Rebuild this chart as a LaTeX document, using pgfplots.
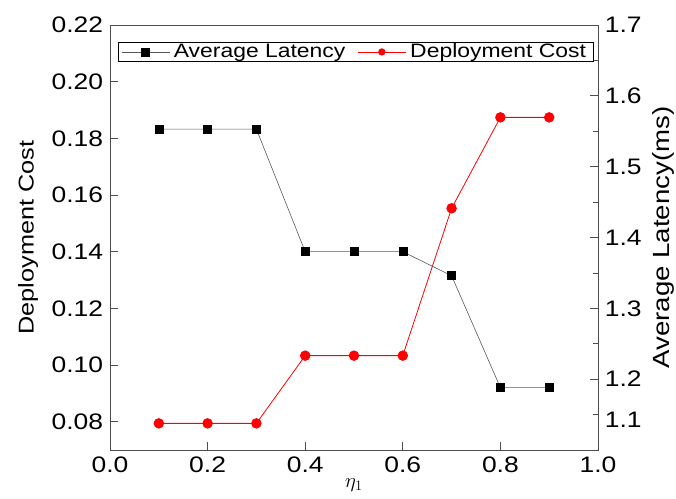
\documentclass[border=0pt]{standalone}
\usepackage{fontspec}
\setmainfont{Liberation Sans}[FakeStretch=1.18]
\usepackage{pgfplots}
\pgfplotsset{compat=1.18}
\begin{document}
\fontsize{20}{24}\selectfont
\begin{tikzpicture}
\begin{axis}[
  name=ax1,
  scale only axis, width=488bp, height=425bp,
  xmin=0, xmax=1, ymin=0.07, ymax=0.22,
  xtick={0,0.2,0.4,0.6,0.8,1.0},
  ytick={0.08,0.10,0.12,0.14,0.16,0.18,0.20,0.22},
  xtick pos=bottom, ytick pos=left,
  tick align=inside, major tick length=8bp,
  axis line style={black!70, line width=0.8bp},
  tick style={black!70, line width=0.8bp},
  /pgf/number format/assume math mode=true,
  xticklabel style={font=\fontsize{22.5}{26}\selectfont, /pgf/number format/fixed, /pgf/number format/fixed zerofill, /pgf/number format/precision=1},
  yticklabel style={font=\fontsize{22.5}{26}\selectfont, /pgf/number format/fixed, /pgf/number format/fixed zerofill, /pgf/number format/precision=2},
  scaled y ticks=false,
  xlabel={$\eta_1$}, xlabel style={font=\fontsize{20}{22}\selectfont, inner sep=0pt, yshift=1bp},
  ylabel={Deployment Cost}, ylabel style={font=\fontsize{21.5}{26}\selectfont, yshift=0bp},
]
\addplot[red, line width=0.8bp, mark=*, mark size=4.8bp, mark options={fill=red, draw=red}]
  coordinates {(0.1,0.0794) (0.2,0.0794) (0.3,0.0794) (0.4,0.1033) (0.5,0.1033) (0.6,0.1033) (0.7,0.1553) (0.8,0.1874) (0.9,0.1874)};
\end{axis}
\begin{axis}[
  scale only axis, width=488bp, height=425bp,
  xmin=0, xmax=1, ymin=1.1, ymax=1.7,
  axis x line=none, axis y line*=right,
  ytick={1.2,1.3,1.4,1.5,1.6,1.7},
  extra y ticks={1.1}, extra y tick labels={1.1},
  extra y tick style={yticklabel style={/tikz/yshift=30bp}},
  minor ytick={1.15,1.25,1.35,1.45,1.55,1.65},
  tick align=inside, major tick length=8bp, minor tick length=5bp,
  axis line style={black!70, line width=0.8bp},
  tick style={black!70, line width=0.8bp},
  /pgf/number format/assume math mode=true,
  yticklabel style={font=\fontsize{22.5}{26}\selectfont, /pgf/number format/fixed, /pgf/number format/fixed zerofill, /pgf/number format/precision=1},
  ylabel={Average Latency(ms)}, ylabel style={font=\fontsize{23.5}{28}\selectfont, inner sep=1pt, yshift=-3bp},
  legend style={at={(0.016,0.96)}, anchor=north west, draw=black, line width=0.8bp,
    inner xsep=3bp, inner ysep=0bp, font=\fontsize{19.5}{22}\selectfont,
    legend columns=2, /tikz/every even column/.append style={column sep=8bp},
    nodes={inner xsep=4bp, inner ysep=1bp}},
  legend cell align=left,
  legend image code/.code={\draw[mark repeat=2, mark phase=2, #1] plot coordinates {(0bp,0bp) (24bp,0bp) (48bp,0bp)};},
]
\addplot[black!65, line width=0.6bp, mark=square*, mark size=4bp, mark options={fill=black, draw=black}]
  coordinates {(0.1,1.553) (0.2,1.553) (0.3,1.553) (0.4,1.380) (0.5,1.380) (0.6,1.380) (0.7,1.346) (0.8,1.188) (0.9,1.188)};
\addlegendentry{Average Latency}
\addlegendimage{red, line width=0.8bp, mark=*, mark size=3.2bp, mark options={fill=red, draw=red}}
\addlegendentry{Deployment Cost}
\end{axis}
\path (ax1.south west) ++(-110bp,-49bp) coordinate (bl);
\path (ax1.north east) ++(78bp,25bp) coordinate (tr);
\pgfresetboundingbox
\useasboundingbox (bl) rectangle (tr);
\end{tikzpicture}
\end{document}
